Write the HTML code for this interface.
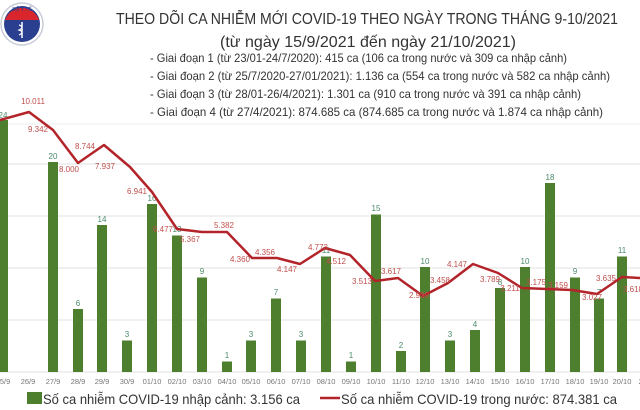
<!DOCTYPE html>
<html><head><meta charset="utf-8"><style>
html,body{margin:0;padding:0;background:#fff;width:640px;height:410px;overflow:hidden}
svg{display:block}
</style></head><body>
<svg width="640" height="410" viewBox="0 0 640 410" xmlns="http://www.w3.org/2000/svg" font-family="Liberation Sans, sans-serif">
<rect width="640" height="410" fill="#fff"/>
<!-- logo -->
<circle cx="22" cy="24" r="21" fill="#fff" stroke="#c8ccd8" stroke-width="1.5"/>
<circle cx="22" cy="24" r="18" fill="#2a3f8f"/>
<path d="M5,20 A18,18 0 0 1 39,20 Z" fill="#d8262c"/>
<text x="22" y="11" font-size="5" fill="#2a3f8f" text-anchor="middle">BỘ Y TẾ</text>
<line x1="22" y1="22" x2="22" y2="38" stroke="#fff" stroke-width="1.5"/>
<path d="M19,25 q6,2 0,5 q6,2 0,5" stroke="#fff" fill="none" stroke-width="1.2"/>
<!-- titles -->
<text x="116" y="24" font-size="16" fill="#333" textLength="502" lengthAdjust="spacingAndGlyphs">THEO DÕI CA NHIỄM MỚI COVID-19 THEO NGÀY TRONG THÁNG 9-10/2021</text>
<text x="220" y="47" font-size="16" fill="#333" textLength="296" lengthAdjust="spacingAndGlyphs">(từ ngày 15/9/2021 đến ngày 21/10/2021)</text>
<g font-size="12" fill="#333">
<text x="150" y="62" textLength="417" lengthAdjust="spacingAndGlyphs">- Giai đoạn 1 (từ 23/01-24/7/2020): 415 ca (106 ca trong nước và 309 ca nhập cảnh)</text>
<text x="150" y="80" textLength="460" lengthAdjust="spacingAndGlyphs">- Giai đoạn 2 (từ 25/7/2020-27/01/2021): 1.136 ca (554 ca trong nước và 582 ca nhập cảnh)</text>
<text x="150" y="98" textLength="431" lengthAdjust="spacingAndGlyphs">- Giai đoạn 3 (từ 28/01-26/4/2021): 1.301 ca (910 ca trong nước và 391 ca nhập cảnh)</text>
<text x="150" y="116" textLength="453" lengthAdjust="spacingAndGlyphs">- Giai đoạn 4 (từ 27/4/2021): 874.685 ca (874.685 ca trong nước và 1.874 ca nhập cảnh)</text>
</g>
<line x1="0" y1="124" x2="640" y2="124" stroke="#eee"/>
<!-- grid -->
<g stroke="#e2e2e2" stroke-width="1">
<line x1="0" y1="164" x2="640" y2="164"/><line x1="0" y1="216" x2="640" y2="216"/>
<line x1="0" y1="268" x2="640" y2="268"/><line x1="0" y1="320" x2="640" y2="320"/>
<line x1="0" y1="372" x2="640" y2="372"/>
</g>
<!-- bars -->
<g fill="#4e7f2f">
<rect x="-2" y="120" width="10" height="252"/>
<rect x="48" y="162" width="10" height="210"/>
<rect x="73" y="309" width="10" height="63"/>
<rect x="97" y="225" width="10" height="147"/>
<rect x="122" y="340.5" width="10" height="31.5"/>
<rect x="147" y="204" width="10" height="168"/>
<rect x="172" y="235.5" width="10" height="136.5"/>
<rect x="197" y="277.5" width="10" height="94.5"/>
<rect x="222" y="361.5" width="10" height="10.5"/>
<rect x="246" y="340.5" width="10" height="31.5"/>
<rect x="271" y="298.5" width="10" height="73.5"/>
<rect x="296" y="340.5" width="10" height="31.5"/>
<rect x="321" y="256.5" width="10" height="115.5"/>
<rect x="346" y="361.5" width="10" height="10.5"/>
<rect x="371" y="214.5" width="10" height="157.5"/>
<rect x="396" y="351" width="10" height="21"/>
<rect x="420" y="267" width="10" height="105"/>
<rect x="445" y="340.5" width="10" height="31.5"/>
<rect x="470" y="330" width="10" height="42"/>
<rect x="495" y="288" width="10" height="84"/>
<rect x="520" y="267" width="10" height="105"/>
<rect x="545" y="183" width="10" height="189"/>
<rect x="570" y="277.5" width="10" height="94.5"/>
<rect x="594" y="298.5" width="10" height="73.5"/>
<rect x="617" y="256.5" width="10" height="115.5"/>
</g>
<g font-size="8" fill="#4a8a6a" text-anchor="middle">
<text x="3" y="118">24</text><text x="53" y="159">20</text><text x="78" y="306">6</text><text x="102" y="222">14</text>
<text x="127" y="337">3</text><text x="152" y="201">16</text><text x="177" y="232">13</text><text x="202" y="274">9</text>
<text x="227" y="358">1</text><text x="251" y="337">3</text><text x="276" y="295">7</text><text x="301" y="337">3</text>
<text x="326" y="253">11</text><text x="351" y="358">1</text><text x="376" y="211">15</text><text x="401" y="348">2</text>
<text x="425" y="264">10</text><text x="450" y="337">3</text><text x="475" y="327">4</text><text x="500" y="285">8</text>
<text x="525" y="264">10</text><text x="550" y="180">18</text><text x="575" y="274">9</text><text x="599" y="295">7</text><text x="622" y="253">11</text>
</g>
<!-- line -->
<polyline fill="none" stroke="#b3242a" stroke-width="2.5" stroke-linejoin="round" points="0,120 29,112 53,130 78,163 104,145 130,167 152,192 177,229 202,232 227,232 252,258 277,258 300,264 325,248 350,255 375,281 398,278 423,296 448,283 473,264 498,273 522,288 547,289 572,290 597,294 622,277 640,278"/>
<g font-size="8" fill="#c0504d" text-anchor="middle">
<text x="33" y="104">10.011</text><text x="38" y="132">9.342</text><text x="69" y="172">8.000</text><text x="85" y="149">8.744</text>
<text x="105" y="169">7.937</text><text x="137" y="194">6.941</text><text x="163" y="232">6.477</text><text x="190" y="242">5.367</text>
<text x="224" y="228">5.382</text><text x="240" y="262">4.360</text><text x="265" y="255">4.356</text><text x="287" y="272">4.147</text>
<text x="318" y="250">4.773</text><text x="336" y="264">4.512</text><text x="362" y="284">3.513</text><text x="391" y="274">3.617</text>
<text x="419" y="298">2.939</text><text x="440" y="283">3.458</text><text x="457" y="267">4.147</text><text x="490" y="282">3.789</text>
<text x="510" y="291">3.211</text><text x="536" y="285">3.175</text><text x="558" y="288">3.159</text><text x="592" y="300">3.027</text>
<text x="606" y="281">3.635</text><text x="633" y="292">3.618</text>
</g>
<!-- x labels -->
<g font-size="7.5" fill="#777" text-anchor="middle">
<text x="3" y="384">25/9</text><text x="28" y="384">26/9</text><text x="53" y="384">27/9</text><text x="78" y="384">28/9</text>
<text x="102" y="384">29/9</text><text x="127" y="384">30/9</text><text x="152" y="384">01/10</text><text x="177" y="384">02/10</text>
<text x="202" y="384">03/10</text><text x="227" y="384">04/10</text><text x="251" y="384">05/10</text><text x="276" y="384">06/10</text>
<text x="301" y="384">07/10</text><text x="326" y="384">08/10</text><text x="351" y="384">09/10</text><text x="376" y="384">10/10</text>
<text x="401" y="384">11/10</text><text x="425" y="384">12/10</text><text x="450" y="384">13/10</text><text x="475" y="384">14/10</text>
<text x="500" y="384">15/10</text><text x="525" y="384">16/10</text><text x="550" y="384">17/10</text><text x="575" y="384">18/10</text>
<text x="599" y="384">19/10</text><text x="622" y="384">20/10</text><text x="648" y="384">21/10</text>
</g>
<!-- legend -->
<rect x="27" y="392" width="15" height="12" fill="#4e7f2f"/>
<text x="43" y="404" font-size="14" fill="#333" textLength="257" lengthAdjust="spacingAndGlyphs">Số ca nhiễm COVID-19 nhập cảnh: 3.156 ca</text>
<line x1="320" y1="398" x2="340" y2="398" stroke="#b3242a" stroke-width="2.5"/>
<text x="341" y="404" font-size="14" fill="#333" textLength="276" lengthAdjust="spacingAndGlyphs">Số ca nhiễm COVID-19 trong nước: 874.381 ca</text>
</svg>
</body></html>
